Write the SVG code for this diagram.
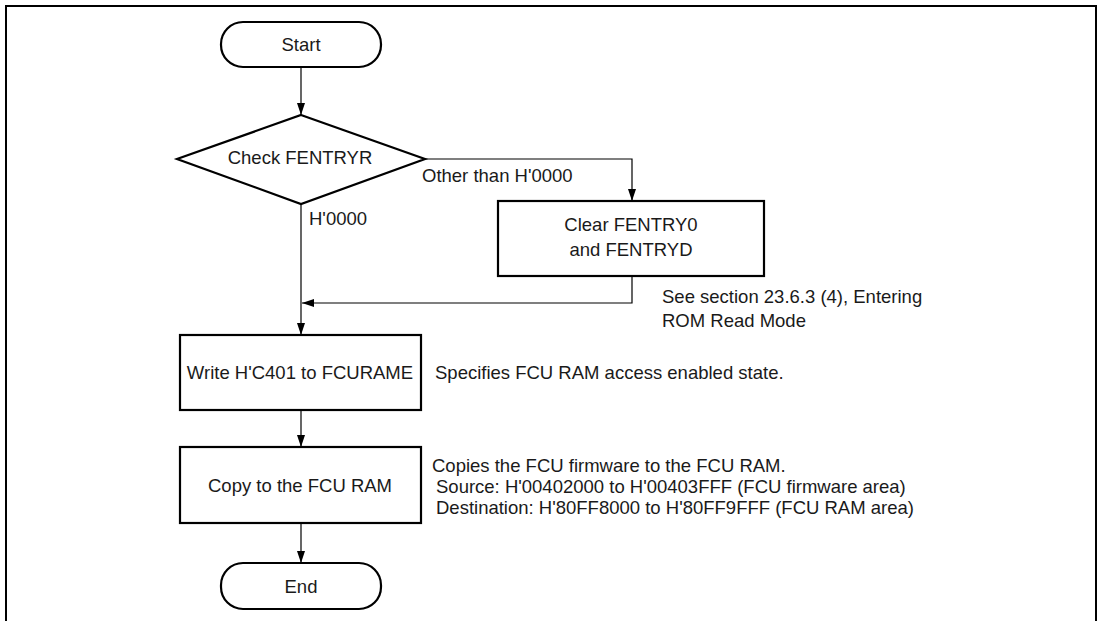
<svg xmlns="http://www.w3.org/2000/svg" width="1101" height="621" viewBox="0 0 1101 621">
<style>
.n{fill:#fff;stroke:#000;stroke-width:2.2}
.c{fill:none;stroke:#000;stroke-width:1.2}
text{font-family:"Liberation Sans",Arial,sans-serif;font-size:18.5px;fill:#1a1a1a}
.m{text-anchor:middle}
</style>
<defs>
<marker id="ah" viewBox="0 0 12 8" refX="12" refY="4" markerWidth="12" markerHeight="8" markerUnits="userSpaceOnUse" orient="auto">
<path d="M0,0 L12,4 L0,8 Z" fill="#000"/>
</marker>
</defs>
<rect width="1101" height="621" fill="#fff"/>
<path d="M6,621 V6 H1096 V621" fill="none" stroke="#000" stroke-width="2"/>
<g id="connectors">
<line class="c" x1="301" y1="67" x2="301" y2="115" marker-end="url(#ah)"/>
<polyline class="c" points="425,159 632,159 632,201" marker-end="url(#ah)"/>
<line class="c" x1="301" y1="204" x2="301" y2="335" marker-end="url(#ah)"/>
<polyline class="c" points="632,276 632,303 302,303" marker-end="url(#ah)"/>
<line class="c" x1="301" y1="410" x2="301" y2="447" marker-end="url(#ah)"/>
<line class="c" x1="301" y1="523" x2="301" y2="563" marker-end="url(#ah)"/>
</g>
<g id="start">
<rect class="n" x="221" y="22" width="160" height="45" rx="22" ry="22"/>
<text class="m" x="301" y="51">Start</text>
</g>
<g id="check">
<polygon class="n" points="301,115 425,159 301,204 177,159"/>
<text class="m" x="300" y="164">Check FENTRYR</text>
</g>
<text x="422" y="182">Other than H'0000</text>
<text x="309" y="225">H'0000</text>
<g id="clear">
<rect class="n" x="498" y="201" width="266" height="75"/>
<text class="m" x="631" y="231">Clear FENTRY0</text>
<text class="m" x="631" y="256">and FENTRYD</text>
</g>
<text x="662" y="303">See section 23.6.3 (4), Entering</text>
<text x="662" y="327">ROM Read Mode</text>
<g id="write">
<rect class="n" x="180" y="335" width="241" height="75"/>
<text class="m" x="300" y="379">Write H'C401 to FCURAME</text>
</g>
<text x="435" y="379">Specifies FCU RAM access enabled state.</text>
<g id="copy">
<rect class="n" x="180" y="447" width="241" height="76"/>
<text class="m" x="300" y="492">Copy to the FCU RAM</text>
</g>
<text x="432" y="472">Copies the FCU firmware to the FCU RAM.</text>
<text x="436" y="493">Source: H'00402000 to H'00403FFF (FCU firmware area)</text>
<text x="436" y="514">Destination: H'80FF8000 to H'80FF9FFF (FCU RAM area)</text>
<g id="end">
<rect class="n" x="221" y="563" width="160" height="46" rx="22" ry="22"/>
<text class="m" x="301" y="593">End</text>
</g>
</svg>
